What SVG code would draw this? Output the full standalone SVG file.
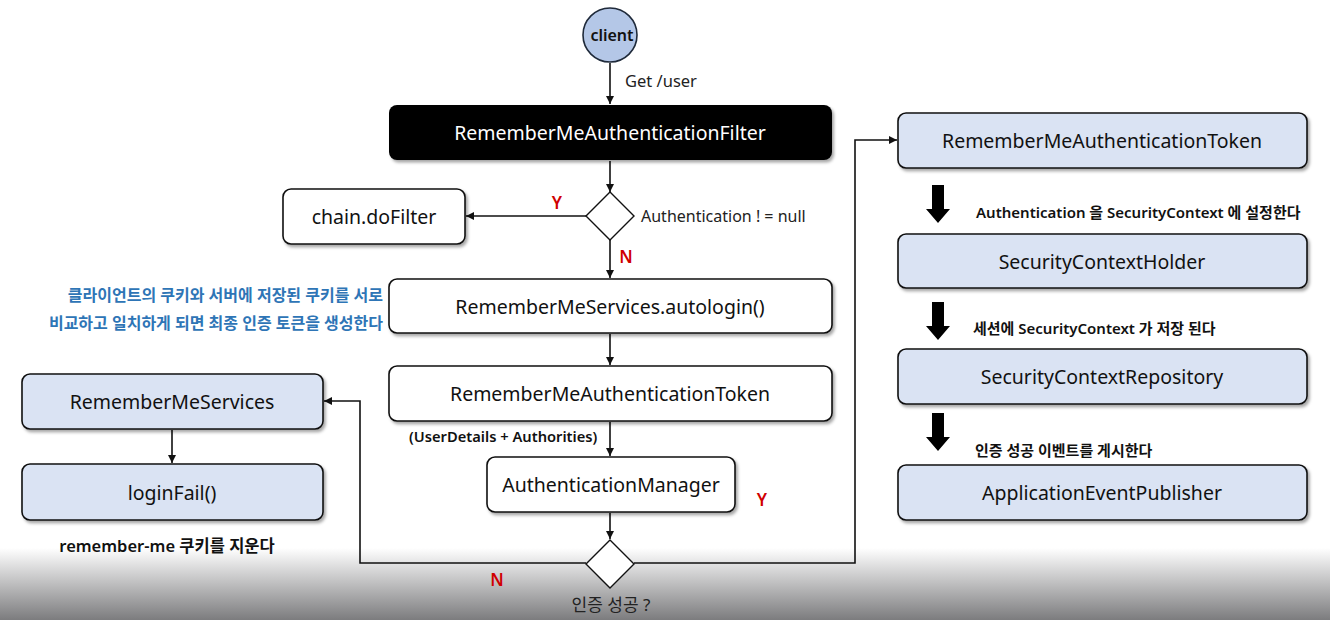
<svg xmlns="http://www.w3.org/2000/svg" width="1330" height="620" viewBox="0 0 1330 620">
<defs>
<linearGradient id="bg" x1="0" y1="0" x2="0" y2="1">
<stop offset="0" stop-color="#ffffff"/>
<stop offset="1" stop-color="#7c7c7e"/>
</linearGradient>
<filter id="sh" x="-5%" y="-10%" width="112%" height="130%">
<feDropShadow dx="2" dy="2.5" stdDeviation="1.5" flood-color="#000" flood-opacity="0.35"/>
</filter>
<marker id="ah" viewBox="0 0 10 10" refX="10" refY="5" markerWidth="8" markerHeight="8" markerUnits="userSpaceOnUse" orient="auto">
<path d="M0,0 L10,5 L0,10 z" fill="#111"/>
</marker>
<path id="bigArrow" d="M-6,0 H6 V24 H12 L0,38 L-12,24 H-6 Z" fill="#000"/>
</defs>
<style>
.box{fill:#fff;stroke:#111;stroke-width:1.6;filter:url(#sh)}
.blue{fill:#dae3f3;stroke:#111;stroke-width:1.6;filter:url(#sh)}
.t{font-family:"Noto Sans","Noto Sans CJK KR",sans-serif;font-size:19.5px;fill:#111;text-anchor:middle;dominant-baseline:central}
.lbl{font-family:"Noto Sans","Noto Sans CJK KR",sans-serif;font-size:16.5px;fill:#222}
.kr{font-family:"Noto Sans","Noto Sans CJK KR",sans-serif;font-size:15px;fill:#111;font-weight:600}
.red{font-family:"Noto Sans",sans-serif;font-size:17px;fill:#d00000;font-weight:600;text-anchor:middle}
.ln{fill:none;stroke:#111;stroke-width:1.6}
.dia{fill:#fff;stroke:#111;stroke-width:1.4}
</style>
<rect x="0" y="0" width="1330" height="620" fill="#fff"/>
<rect x="0" y="548" width="1330" height="72" fill="url(#bg)"/>

<g id="connectors">
<line class="ln" x1="610" y1="63" x2="610" y2="104" marker-end="url(#ah)"/>
<line class="ln" x1="610" y1="161" x2="610" y2="192" marker-end="url(#ah)"/>
<line class="ln" x1="586" y1="216" x2="466" y2="216" marker-end="url(#ah)"/>
<line class="ln" x1="610" y1="240" x2="610" y2="278" marker-end="url(#ah)"/>
<line class="ln" x1="610" y1="334" x2="610" y2="365" marker-end="url(#ah)"/>
<line class="ln" x1="610" y1="422" x2="610" y2="456" marker-end="url(#ah)"/>
<line class="ln" x1="610" y1="513" x2="610" y2="539" marker-end="url(#ah)"/>
<polyline class="ln" points="586,563 360,563 360,401 324,401" marker-end="url(#ah)"/>
<line class="ln" x1="172" y1="430" x2="172" y2="463" marker-end="url(#ah)"/>
<polyline class="ln" points="634,563 855,563 855,140 897,140" marker-end="url(#ah)"/>
<use href="#bigArrow" x="938" y="185"/>
<use href="#bigArrow" x="938" y="302"/>
<use href="#bigArrow" x="938" y="413"/>
</g>

<g id="client">
<circle cx="610" cy="35" r="27" fill="#b4c7e7" stroke="#1f2a3a" stroke-width="1.6"/>
<text x="612" y="35" class="t" style="font-size:16px;font-weight:600">client</text>
</g>
<text x="625" y="87" class="lbl">Get /user</text>

<g id="filter">
<rect x="389" y="105" width="443" height="55" rx="8" fill="#000" filter="url(#sh)"/>
<text x="610" y="132" class="t" style="fill:#fff">RememberMeAuthenticationFilter</text>
</g>

<g id="decision1">
<polygon class="dia" points="610,192 634,216 610,240 586,216"/>
<text x="641" y="222" class="lbl" style="font-size:16px">Authentication ! = null</text>
<text x="557" y="209" class="red">Y</text>
<text x="626" y="263" class="red">N</text>
</g>

<g id="chainDoFilter">
<rect class="box" x="283" y="189" width="182" height="55" rx="8"/>
<text x="374" y="216" class="t">chain.doFilter</text>
</g>

<g id="note">
<text x="383" y="301" class="kr" style="fill:#2e75b6;text-anchor:end;font-size:16px">클라이언트의 쿠키와 서버에 저장된 쿠키를 서로</text>
<text x="383" y="329" class="kr" style="fill:#2e75b6;text-anchor:end;font-size:16px">비교하고 일치하게 되면 최종 인증 토큰을 생성한다</text>
</g>

<g id="autologin">
<rect class="box" x="389" y="279" width="443" height="54" rx="8"/>
<text x="610" y="306" class="t">RememberMeServices.autologin()</text>
</g>

<g id="token">
<rect class="box" x="389" y="366" width="443" height="55" rx="8"/>
<text x="610" y="393" class="t">RememberMeAuthenticationToken</text>
</g>
<text x="409" y="442" class="kr" style="font-size:14.7px">(UserDetails + Authorities)</text>

<g id="authManager">
<rect class="box" x="487" y="457" width="248" height="55" rx="8"/>
<text x="611" y="484" class="t">AuthenticationManager</text>
</g>
<text x="762" y="506" class="red">Y</text>

<g id="decision2">
<polygon class="dia" points="610,540 634,564 610,588 586,564"/>
<text x="497" y="586" class="red">N</text>
<text x="611" y="611" class="lbl" style="text-anchor:middle;font-size:17px">인증 성공 ?</text>
</g>

<g id="rememberMeServices">
<rect class="blue" x="22" y="374" width="301" height="55" rx="8"/>
<text x="172" y="401" class="t">RememberMeServices</text>
</g>

<g id="loginFail">
<rect class="blue" x="22" y="464" width="301" height="56" rx="8"/>
<text x="172" y="492" class="t">loginFail()</text>
</g>
<text x="167" y="552" class="kr" style="text-anchor:middle;font-size:16.5px">remember-me 쿠키를 지운다</text>

<g id="rightToken">
<rect class="blue" x="898" y="113" width="409" height="55" rx="8"/>
<text x="1102" y="140" class="t">RememberMeAuthenticationToken</text>
</g>
<text x="976" y="218" class="kr">Authentication 을 SecurityContext 에 설정한다</text>

<g id="securityContextHolder">
<rect class="blue" x="898" y="234" width="409" height="54" rx="8"/>
<text x="1102" y="261" class="t">SecurityContextHolder</text>
</g>
<text x="973" y="334" class="kr">세션에 SecurityContext 가 저장 된다</text>

<g id="securityContextRepository">
<rect class="blue" x="898" y="349" width="409" height="55" rx="8"/>
<text x="1102" y="376" class="t">SecurityContextRepository</text>
</g>
<text x="975" y="456" class="kr">인증 성공 이벤트를 게시한다</text>

<g id="applicationEventPublisher">
<rect class="blue" x="898" y="465" width="409" height="55" rx="8"/>
<text x="1102" y="492" class="t">ApplicationEventPublisher</text>
</g>
</svg>
